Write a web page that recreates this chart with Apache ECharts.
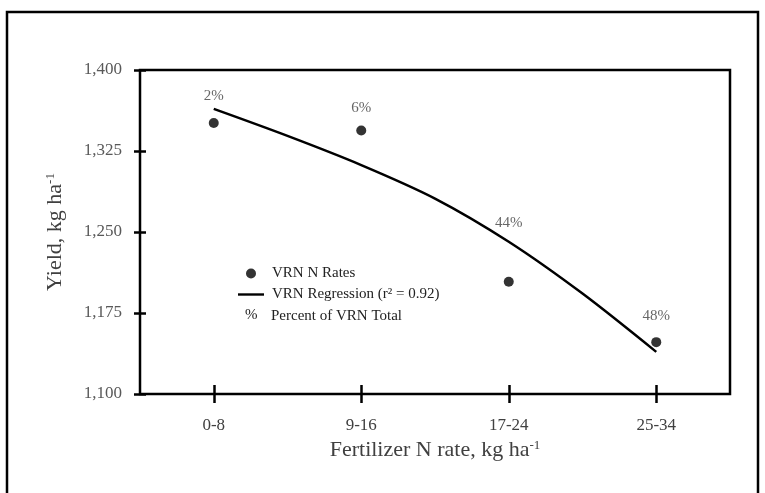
<!DOCTYPE html>
<html>
<head>
<meta charset="utf-8">
<script src="https://cdn.jsdelivr.net/npm/echarts@6/dist/echarts.min.js"></script>
<style>
  html, body { margin: 0; padding: 0; background: #fff; }
  #chart { width: 765px; height: 493px; }
</style>
</head>
<body>
<div id="chart"></div>
<script>
// Fertilizer N rate classes (kg/ha)
const rateClasses = ['0-8', '9-16', '17-24', '25-34'];
// Mean yield for each rate class (kg/ha)
const vrnYield = [1351, 1344, 1204, 1148];
// Share of the VRN total area in each class
const vrnShare = ['2%', '6%', '44%', '48%'];
// Fitted regression curve, sampled at half-class steps
const curveX = [0, 0.5, 1, 1.5, 2, 2.5, 3];
const curveYield = [1364, 1339, 1312, 1281, 1241, 1193, 1139];
// Yield axis tick values
const yieldTicks = [1100, 1175, 1250, 1325, 1400];

// Vertical lift of each percent label above its dot (px)
const shareLabelGap = [14, 10, 46, 14];

const SERIF = 'Liberation Serif';
// Plain horizontal bar used as the legend icon of the regression line
const LINE_ICON = 'path://M0,0 M0,3.8 L26,3.8 L26,6.2 L0,6.2 Z M26,10';

const chart = echarts.init(document.getElementById('chart'));

const titleStyle = {
  fontFamily: SERIF, fontSize: 22, color: '#404040',
  rich: { sup: { fontFamily: SERIF, fontSize: 13, color: '#404040', verticalAlign: 'top', padding: [0, 0, 9, 0] } }
};

chart.setOption({
  animation: false,
  backgroundColor: '#fff',
  textStyle: { fontFamily: SERIF },
  grid: {
    left: 140, top: 70, right: 35, bottom: 99,
    show: true, borderColor: '#000', borderWidth: 2.5,
    outerBoundsMode: 'none'
  },
  legend: {
    orient: 'vertical',
    left: 238, top: 266,
    padding: 0,
    itemWidth: 26, itemHeight: 10, itemGap: 6,
    selectedMode: false,
    textStyle: { fontFamily: SERIF, fontSize: 15, color: '#222', padding: [0, 0, 0, 3] },
    data: [
      { name: 'VRN N Rates', icon: 'circle' },
      { name: 'VRN Regression (r\u00B2 = 0.92)', icon: LINE_ICON }
    ]
  },
  xAxis: [
    {
      type: 'category',
      data: rateClasses,
      boundaryGap: true,
      position: 'bottom',
      offset: -9,
      axisLine: { show: false, onZero: false },
      axisTick: { show: true, alignWithLabel: true, length: 18, lineStyle: { color: '#000', width: 2.5 } },
      axisLabel: { margin: 32, fontFamily: SERIF, fontSize: 17, color: '#404040' },
      splitLine: { show: false },
      name: 'Fertilizer N rate, kg ha{sup|-1}',
      nameLocation: 'middle',
      nameGap: 54,
      nameTextStyle: titleStyle
    },
    {
      type: 'value',
      min: -0.5, max: 3.5,
      position: 'bottom',
      axisLine: { onZero: false },
      show: false
    }
  ],
  yAxis: {
    type: 'value',
    min: 1100, max: 1400,
    position: 'left',
    offset: -6,
    axisLine: { show: false, onZero: false },
    axisTick: { customValues: yieldTicks, length: 12, lineStyle: { color: '#000', width: 2.5 } },
    axisLabel: {
      customValues: yieldTicks,
      margin: 24, fontFamily: SERIF, fontSize: 17, color: '#595959',
      formatter: v => v.toLocaleString('en-US')
    },
    splitLine: { show: false },
    name: 'Yield, kg ha{sup|-1}',
    nameLocation: 'middle',
    nameGap: 80,
    nameTextStyle: titleStyle
  },
  series: [
    {
      name: 'VRN N Rates',
      type: 'scatter',
      xAxisIndex: 1,
      symbol: 'circle',
      symbolSize: 10,
      itemStyle: { color: '#000' },
      label: {
        show: true, position: 'top',
        fontFamily: SERIF, fontSize: 15, color: '#404040',
        formatter: p => vrnShare[p.dataIndex]
      },
      data: vrnYield.map((v, i) => ({ value: [i, v], label: { distance: shareLabelGap[i] } })),
      z: 3
    },
    {
      name: 'VRN Regression (r\u00B2 = 0.92)',
      type: 'line',
      xAxisIndex: 1,
      symbol: 'none',
      smooth: 0.3,
      lineStyle: { color: '#000', width: 2.5 },
      itemStyle: { color: '#000' },
      data: curveX.map((x, i) => [x, curveYield[i]]),
      z: 2
    }
  ],
  graphic: [
    {
      type: 'rect',
      shape: { x: 7, y: 12, width: 751, height: 495 },
      style: { fill: 'none', stroke: '#000', lineWidth: 2.5 },
      silent: true
    },
    {
      type: 'text',
      left: 245, top: 308,
      style: { text: '%', font: '15px "Liberation Serif"', fill: '#222' }
    },
    {
      type: 'text',
      left: 271, top: 309,
      style: { text: 'Percent of VRN Total', font: '15px "Liberation Serif"', fill: '#222' }
    }
  ]
});
</script>
</body>
</html>
